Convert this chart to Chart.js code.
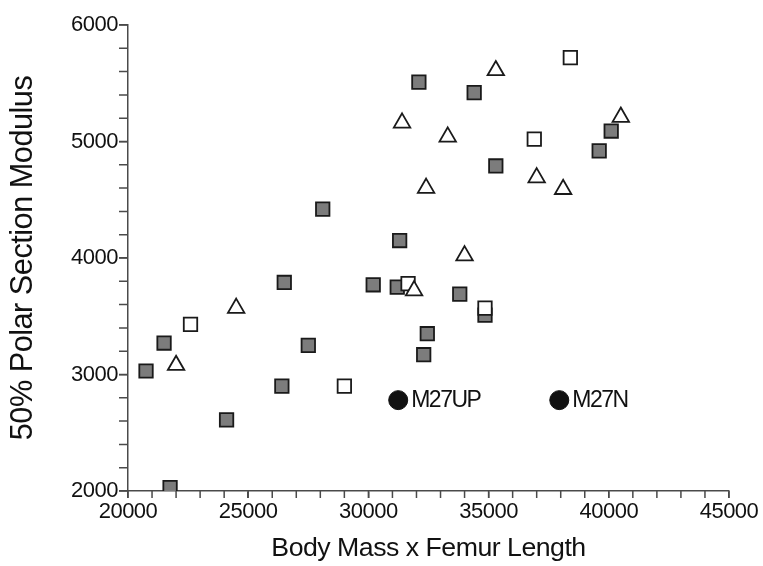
<!DOCTYPE html>
<html>
<head>
<meta charset="utf-8">
<script src="https://cdn.jsdelivr.net/npm/chart.js"></script>
<style>
  body { margin: 0; background: #fff; }
  #wrap { width: 763px; height: 566px; }
</style>
</head>
<body>
<div id="wrap"><canvas id="scatter-chart"></canvas></div>
<script>
// values: body mass x femur length vs 50% polar section modulus
const filledMass = [32100, 34400, 40100, 39600, 35300, 31300, 28100, 26500, 30200, 31200, 33800, 34850, 32450, 32300, 21500, 27500, 20750, 26400, 24100, 21750];
const filledModulus = [5510, 5420, 5090, 4920, 4790, 4150, 4420, 3790, 3770, 3750, 3690, 3510, 3350, 3170, 3270, 3250, 3030, 2900, 2610, 2030];

const openMass = [38400, 36900, 31650, 34850, 22600, 29000];
const openModulus = [5720, 5020, 3780, 3570, 3430, 2900];

const triMass = [35300, 31400, 33300, 40500, 37000, 38100, 32400, 34000, 31900, 24500, 22000];
const triModulus = [5610, 5160, 5040, 5210, 4690, 4590, 4600, 4020, 3720, 3570, 3080];

const namedLabels = ['M27UP', 'M27N'];
const namedMass = [31240, 37940];
const namedModulus = [2780, 2780];

const xTicks = [20000, 25000, 30000, 35000, 40000, 45000];
const yTicks = [2000, 3000, 4000, 5000, 6000];
const xMinorStep = 1000;
const yMinorStep = 200;

const toPoints = (xs, ys) => xs.map((x, i) => ({ x: x, y: ys[i] }));

// values for every tick mark (major + minor) between the end labels
function tickValues(labels, step) {
  const out = [];
  for (let v = labels[0]; v <= labels[labels.length - 1]; v += step) out.push(v);
  return out;
}

const axisColor = '#4a4a4a';
const fontFamily = '"Liberation Sans", Arial, sans-serif';

// slightly tight lettering like the original figure
const tightText = {
  id: 'tightText',
  beforeDraw(chart) { chart.ctx.letterSpacing = '-0.5px'; }
};

// small unlabelled tick marks + names next to the two black dots
const extras = {
  id: 'extras',
  afterDatasetsDraw(chart) {
    const ctx = chart.ctx;
    const xs = chart.scales.x, ys = chart.scales.y;
    const bottom = ys.getPixelForValue(yTicks[0]);
    const left = xs.getPixelForValue(xTicks[0]);

    ctx.save();
    ctx.strokeStyle = axisColor;
    ctx.lineWidth = 1.5;
    ctx.beginPath();
    tickValues(xTicks, xMinorStep).forEach(v => {
      const px = xs.getPixelForValue(v);
      ctx.moveTo(px, bottom);
      ctx.lineTo(px, bottom + 7);
    });
    tickValues(yTicks, yMinorStep).forEach(v => {
      const py = ys.getPixelForValue(v);
      ctx.moveTo(left - 9, py);
      ctx.lineTo(left, py);
    });
    ctx.stroke();
    ctx.restore();

    ctx.save();
    ctx.letterSpacing = '-1.5px';
    ctx.font = '23px ' + fontFamily;
    ctx.fillStyle = '#111';
    ctx.textAlign = 'left';
    ctx.textBaseline = 'middle';
    namedLabels.forEach((name, i) => {
      ctx.fillText(name, xs.getPixelForValue(namedMass[i]) + 13, ys.getPixelForValue(namedModulus[i]) + 1);
    });
    ctx.restore();
  }
};

const ctx = document.getElementById('scatter-chart');

new Chart(ctx, {
  type: 'scatter',
  data: {
    datasets: [
      {
        label: 'triangles',
        data: toPoints(triMass, triModulus),
        pointStyle: 'triangle',
        pointRadius: 9.5,
        pointBackgroundColor: '#fff',
        pointBorderColor: '#1a1a1a',
        pointBorderWidth: 1.8
      },
      {
        label: 'open squares',
        data: toPoints(openMass, openModulus),
        pointStyle: 'rect',
        pointRadius: 9.5,
        pointBackgroundColor: '#fff',
        pointBorderColor: '#1a1a1a',
        pointBorderWidth: 1.8
      },
      {
        label: 'filled squares',
        data: toPoints(filledMass, filledModulus),
        pointStyle: 'rect',
        pointRadius: 9.5,
        pointBackgroundColor: '#7c7c7c',
        pointBorderColor: '#1a1a1a',
        pointBorderWidth: 1.8
      },
      {
        label: 'named',
        data: toPoints(namedMass, namedModulus),
        pointStyle: 'circle',
        pointRadius: 9.5,
        pointBackgroundColor: '#111',
        pointBorderColor: '#111',
        pointBorderWidth: 1
      }
    ]
  },
  options: {
    responsive: true,
    maintainAspectRatio: false,
    animation: false,
    layout: { padding: { top: 25, right: 34, bottom: 0, left: 0 } },
    plugins: {
      legend: { display: false },
      tooltip: { enabled: false }
    },
    scales: {
      x: {
        type: 'linear',
        min: xTicks[0],
        max: xTicks[xTicks.length - 1],
        afterFit(scale) { scale.height = 75; },
        afterBuildTicks(scale) { scale.ticks = xTicks.map(v => ({ value: v })); },
        grid: { drawOnChartArea: false, tickLength: 7, color: axisColor, lineWidth: 1.5 },
        border: { color: axisColor, width: 1.5 },
        ticks: {
          autoSkip: false,
          maxRotation: 0,
          minRotation: 0,
          padding: 1,
          color: '#111',
          font: { family: fontFamily, size: 22 },
          callback: v => String(v)
        },
        title: {
          display: true,
          text: 'Body Mass x Femur Length',
          color: '#111',
          padding: { top: 0, bottom: 1 },
          font: { family: fontFamily, size: 26.7 }
        }
      },
      y: {
        type: 'linear',
        min: yTicks[0],
        max: yTicks[yTicks.length - 1],
        afterFit(scale) { scale.width = 128; },
        afterBuildTicks(scale) { scale.ticks = yTicks.map(v => ({ value: v })); },
        grid: { drawOnChartArea: false, tickLength: 9, color: axisColor, lineWidth: 1.5 },
        border: { color: axisColor, width: 1.5 },
        ticks: {
          autoSkip: false,
          padding: 1,
          color: '#111',
          font: { family: fontFamily, size: 22 },
          callback: v => String(v)
        },
        title: {
          display: true,
          text: '50% Polar Section Modulus',
          color: '#111',
          padding: { top: 5, bottom: 0 },
          font: { family: fontFamily, size: 30.7 }
        }
      }
    }
  },
  plugins: [tightText, extras]
});
</script>
</body>
</html>
